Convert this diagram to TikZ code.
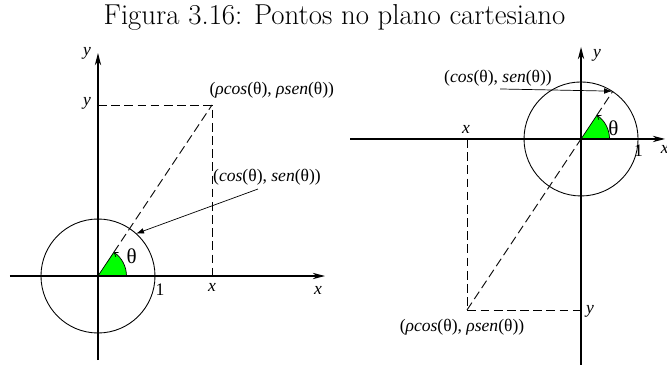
\documentclass[tikz,border=0pt]{standalone}
\usepackage{fontspec}
\newfontfamily\labfont{Liberation Serif}
\usetikzlibrary{arrows.meta, positioning}

\begin{document}
\begin{tikzpicture}[x=1.14cm, y=1.14cm,
        axis/.style={line width=0.7pt, -{Stealth[length=7pt, width=3.6pt]}},
        guide/.style={line width=0.5pt, dash pattern=on 5pt off 2.5pt},
        pointer/.style={line width=0.4pt, -{Latex[length=4.5pt, width=3.2pt]}},
        turn/.style={line width=0.4pt, -{Straight Barb[length=2pt, width=3pt]}},
        lab/.style={font=\labfont, inner sep=0pt},
        ang/.style={font=\labfont\fontsize{12}{14}\selectfont, inner sep=0pt},
        ttl/.style={font=\fontsize{16.4}{19}\selectfont, anchor=base}]
      \useasboundingbox (-1.719,-1.596) rectangle (9.982,4.842);
      \node[ttl] (title) at (4.149,4.404) {Figura 3.16: Pontos no plano cartesiano};
      % first quadrant
      \coordinate (o1) at (0,0);
      \coordinate (xa1) at (-1.544,0);
      \coordinate (xb1) at (3.982,0);
      \coordinate (ya1) at (0,-1.474);
      \coordinate (yb1) at (0,3.912);
      \coordinate (p1) at (2,3);
      \coordinate (px1) at (2,0);
      \coordinate (py1) at (0,3);
      \coordinate (c1) at (48:1);
      \fill[green] (o1) -- (0.5,0) arc (0:56.3:0.5) -- cycle;
      \draw[line width=0.4pt] (o1) -- (56.3:0.5);
      \draw[turn] (0.5,0) arc (0:56.3:0.5);
      \draw[axis] (xa1) -- (xb1);
      \draw[axis] (ya1) -- (yb1);
      \draw[line width=0.5pt] (o1) circle (1);
      \draw[guide] (56.3:0.5) -- (p1);
      \draw[guide] (py1) -- (p1) -- (px1);
      \node[lab] (ly1) at (-0.193,3.912) {\textit{y}};
      \node[lab] (ty1) at (-0.193,3.035) {\textit{y}};
      \node[lab] (tx1) at (2,-0.193) {\textit{x}};
      \node[lab] (lx1) at (3.86,-0.245) {\textit{x}};
      \node[lab] (one1) at (1.088,-0.245) {1};
      \node[ang] (th1) at (0.591,0.339) {θ};
      \node[lab] (rp1) at (3.05,3.263) {(\textit{ρcos}(θ), \textit{ρsen}(θ))};
      \node[lab] (cs1) at (2.965,1.737) {(\textit{cos}(θ), \textit{sen}(θ))};
      \draw[pointer] (2.807,1.526) -- (c1);
      % third quadrant
      \begin{scope}[shift={(8.474,2.404)}]
        \coordinate (o2) at (0,0);
        \coordinate (xa2) at (-4.053,0);
        \coordinate (xb2) at (1.474,0);
        \coordinate (ya2) at (0,-3.965);
        \coordinate (yb2) at (0,1.614);
        \coordinate (q2) at (-2,-3);
        \coordinate (qx2) at (-2,0);
        \coordinate (qy2) at (0,-3);
        \coordinate (c2) at (57:1);
        \fill[green] (o2) -- (0.5,0) arc (0:56.3:0.5) -- cycle;
        \draw[line width=0.4pt] (o2) -- (56.3:0.5);
        \draw[turn] (0.5,0) arc (0:56.3:0.5);
        \draw[axis] (xa2) -- (xb2);
        \draw[axis] (ya2) -- (yb2);
        \draw[line width=0.5pt] (o2) circle (1);
        \draw[guide] (q2) -- (o2);
        \draw[guide] (56.3:0.5) -- (56.3:1);
        \draw[guide] (qx2) -- (q2) -- (qy2);
        \node[lab] (ly2) at (0.281,1.474) {\textit{y}};
        \node[lab] (ty2) at (0.158,-3.018) {\textit{y}};
        \node[lab] (tx2) at (-2.018,0.175) {\textit{x}};
        \node[lab] (lx2) at (1.47,-0.19) {\textit{x}};
        \node[lab] (one2) at (1.01,-0.2) {1};
        \node[ang] (th2) at (0.567,0.188) {θ};
        \node[lab] (rp2) at (-2.088,-3.298) {(\textit{ρcos}(θ), \textit{ρsen}(θ))};
        \node[lab] (cs2) at (-1.456,1.07) {(\textit{cos}(θ), \textit{sen}(θ))};
        \draw[pointer] (-1.421,0.877) -- (c2);
      \end{scope}
    \end{tikzpicture}
\end{document}
